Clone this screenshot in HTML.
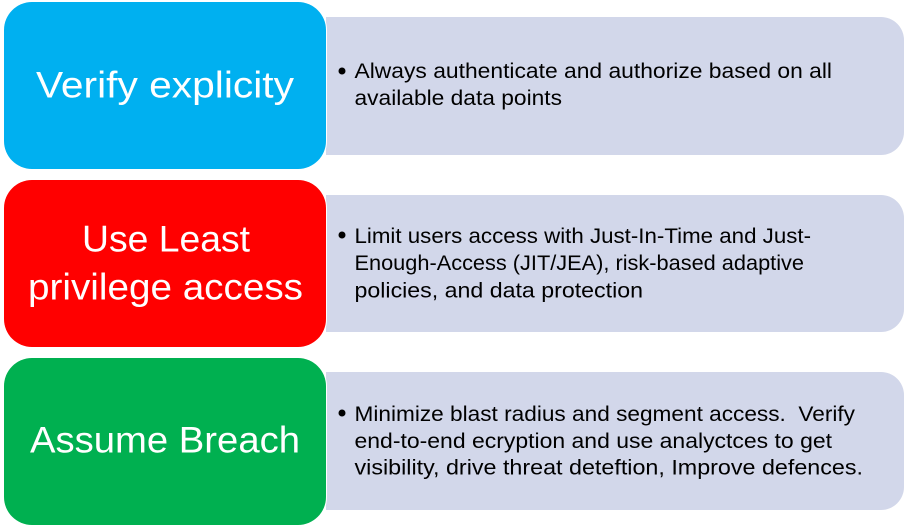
<!DOCTYPE html>
<html>
<head>
<meta charset="utf-8">
<style>
html,body{margin:0;padding:0;background:#fff;}
svg{display:block;}
.h{font-family:"Liberation Sans",sans-serif;font-size:37.500px;fill:#fff;}
.b{font-family:"Liberation Sans",sans-serif;font-size:21.500px;fill:#000;white-space:pre;}
</style>
</head>
<body>
<svg width="904" height="527" viewBox="0 0 904 527" xmlns="http://www.w3.org/2000/svg">
<rect width="904" height="527" fill="#fff"/>
<path d="M326 17H881a23 23 0 0 1 23 23V132a23 23 0 0 1 -23 23H326Z" fill="#d2d7ea"/>
<path d="M326 195H881a23 23 0 0 1 23 23V309a23 23 0 0 1 -23 23H326Z" fill="#d2d7ea"/>
<path d="M326 372H881a23 23 0 0 1 23 23V487a23 23 0 0 1 -23 23H326Z" fill="#d2d7ea"/>
<rect x="4" y="2" width="322" height="167" rx="28" fill="#00b0f0" stroke="#fff" stroke-width="2" paint-order="stroke"/>
<rect x="4" y="180" width="322" height="167" rx="28" fill="#ff0000" stroke="#fff" stroke-width="2" paint-order="stroke"/>
<rect x="4" y="358" width="322" height="167" rx="28" fill="#00b050" stroke="#fff" stroke-width="2" paint-order="stroke"/>

<text class="h" x="36" y="97.500" textLength="258" lengthAdjust="spacingAndGlyphs">Verify explicity</text>
<text class="h" x="82" y="251.500" textLength="168" lengthAdjust="spacingAndGlyphs">Use Least</text>
<text class="h" x="28" y="299.500" textLength="275" lengthAdjust="spacingAndGlyphs">privilege access</text>
<text class="h" x="30" y="452.500" textLength="270" lengthAdjust="spacingAndGlyphs">Assume Breach</text>

<circle cx="342" cy="71" r="3.500" fill="#000"/>
<text class="b" x="354.500" y="78" textLength="477.500" lengthAdjust="spacingAndGlyphs">Always authenticate and authorize based on all</text>
<text class="b" x="354.500" y="105" textLength="207.500" lengthAdjust="spacingAndGlyphs">available data points</text>

<circle cx="342" cy="235" r="3.500" fill="#000"/>
<text class="b" x="354.500" y="243" textLength="456.500" lengthAdjust="spacingAndGlyphs">Limit users access with Just-In-Time and Just-</text>
<text class="b" x="354.500" y="270" textLength="449.500" lengthAdjust="spacingAndGlyphs">Enough-Access (JIT/JEA), risk-based adaptive</text>
<text class="b" x="354.500" y="297.500" textLength="288.500" lengthAdjust="spacingAndGlyphs">policies, and data protection</text>

<circle cx="342" cy="413" r="3.500" fill="#000"/>
<text class="b" x="354.500" y="421" textLength="500.500" lengthAdjust="spacingAndGlyphs">Minimize blast radius and segment access.  Verify</text>
<text class="b" x="354.500" y="448" textLength="477.500" lengthAdjust="spacingAndGlyphs">end-to-end ecryption and use analyctces to get</text>
<text class="b" x="354.500" y="474.500" textLength="508.500" lengthAdjust="spacingAndGlyphs">visibility, drive threat deteftion, Improve defences.</text>
</svg>
</body>
</html>
